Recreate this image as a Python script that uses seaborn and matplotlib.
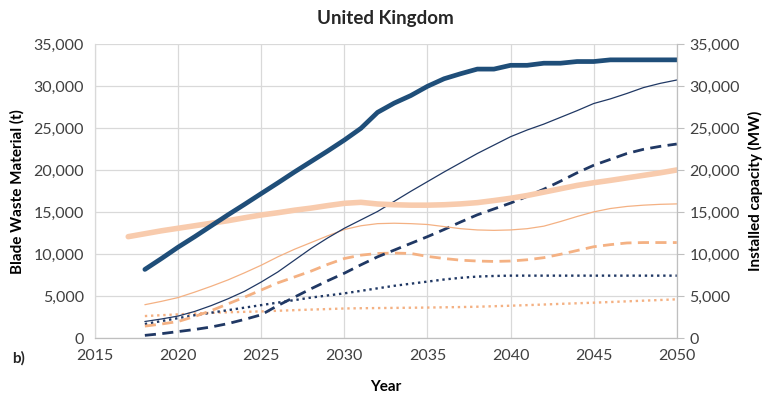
import matplotlib
matplotlib.use("Agg")
import matplotlib.pyplot as plt
import seaborn as sns
import pandas as pd
from matplotlib.ticker import FuncFormatter

# Years covered by the projections
years = list(range(2018, 2051))
capacity_b_years = list(range(2017, 2051))

# Installed capacity (MW), right axis
capacity_a = [8200, 9500, 10850, 12100, 13400, 14700, 15950, 17230, 18500, 19800,
              21050, 22300, 23600, 25000, 26900, 28000, 28900, 30000, 30900, 31500,
              32050, 32050, 32500, 32500, 32750, 32750, 32950, 32950, 33150, 33150,
              33150, 33150, 33150]
capacity_b = [12100, 12450, 12800, 13100, 13400, 13700, 14000, 14350, 14680, 14950,
              15250, 15500, 15800, 16070, 16190, 15990, 15900, 15850, 15850, 15900,
              16000, 16150, 16400, 16670, 17000, 17400, 17800, 18200, 18520, 18800,
              19100, 19400, 19700, 20040]

# Blade waste material (t), left axis
waste_a_solid = [2000, 2300, 2650, 3200, 3900, 4700, 5600, 6700, 7900, 9300,
                 10700, 11950, 13100, 14100, 15100, 16300, 17500, 18650, 19800, 20900,
                 22000, 23000, 24000, 24800, 25500, 26300, 27100, 27950, 28500, 29150,
                 29850, 30350, 30750]
waste_b_solid = [4000, 4400, 4850, 5500, 6200, 6950, 7800, 8700, 9700, 10600,
                 11400, 12200, 12950, 13400, 13650, 13700, 13650, 13550, 13300, 13050,
                 12900, 12850, 12900, 13050, 13350, 13900, 14500, 15050, 15450, 15700,
                 15850, 15950, 16000]
waste_a_dashed = [350, 550, 800, 1050, 1350, 1750, 2250, 2800, 3900, 4900,
                  5900, 6850, 7750, 8750, 9700, 10500, 11300, 12100, 12950, 13850,
                  14700, 15400, 16100, 16900, 17750, 18700, 19700, 20600, 21300, 22000,
                  22500, 22850, 23130]
waste_b_dashed = [1450, 1700, 2000, 2600, 3300, 4100, 4900, 5750, 6600, 7300,
                  8000, 8800, 9500, 9900, 10100, 10150, 10100, 9750, 9500, 9300,
                  9200, 9150, 9200, 9350, 9600, 10000, 10450, 10900, 11150, 11350,
                  11400, 11400, 11400]
waste_a_dotted = [1700, 2050, 2400, 2750, 3050, 3350, 3650, 3950, 4250, 4550,
                  4850, 5100, 5350, 5650, 5950, 6250, 6500, 6750, 7000, 7200,
                  7350, 7420, 7460, 7460, 7460, 7460, 7460, 7460, 7460, 7460,
                  7460, 7460, 7460]
waste_b_dotted = [2650, 2750, 2850, 2950, 3030, 3100, 3150, 3200, 3280, 3350,
                  3420, 3480, 3550, 3580, 3600, 3620, 3640, 3660, 3690, 3720,
                  3760, 3820, 3880, 3950, 4020, 4100, 4170, 4240, 4320, 4400,
                  4480, 4560, 4640]

x_ticks = [2015, 2020, 2025, 2030, 2035, 2040, 2045, 2050]
y_ticks = [0, 5000, 10000, 15000, 20000, 25000, 30000, 35000]

NAVY = "#1F4E79"
DARK = "#203864"
PEACH = "#F8CBAD"
ORANGE = "#F4B183"
TEXT = "#404040"
GRID = "#D9D9D9"
AXIS = "#BFBFBF"

sns.set_theme(style="whitegrid")
plt.rcParams["font.family"] = ["Lato", "DejaVu Sans"]

fig = plt.figure(figsize=(7.63, 3.96), dpi=100)
ax = fig.add_axes([0.1245, 0.1457, 0.7625, 0.7424])
ax2 = ax.twinx()

waste_series = [
    (waste_b_dotted, ORANGE, (0, (1, 1.6)), 1.7),
    (waste_a_dotted, DARK, (0, (1, 1.6)), 1.7),
    (waste_b_dashed, ORANGE, (0, (4, 2.3)), 2.0),
    (waste_a_dashed, DARK, (0, (4, 2.3)), 2.0),
    (waste_b_solid, ORANGE, "-", 0.9),
    (waste_a_solid, DARK, "-", 0.9),
]
for values, color, ls, lw in waste_series:
    df = pd.DataFrame({"year": years, "value": values})
    sns.lineplot(data=df, x="year", y="value", ax=ax, color=color,
                 linewidth=lw, linestyle=ls, legend=False)

cap_series = [
    (capacity_b_years, capacity_b, PEACH, 4.0),
    (years, capacity_a, NAVY, 3.4),
]
for xs, values, color, lw in cap_series:
    df = pd.DataFrame({"year": xs, "value": values})
    sns.lineplot(data=df, x="year", y="value", ax=ax2, color=color,
                 linewidth=lw, legend=False, solid_capstyle="round")

fmt = FuncFormatter(lambda v, _: f"{int(v):,}")
for a in (ax, ax2):
    a.set_ylim(0, 35000)
    a.set_yticks(y_ticks)
    a.yaxis.set_major_formatter(fmt)
    a.set_xlim(2015, 2050)
    a.tick_params(axis="y", labelsize=11.5, labelcolor=TEXT)

ax.set_xticks(x_ticks)
ax.tick_params(axis="x", labelsize=11.5, labelcolor=TEXT, pad=8, length=0)
ax.tick_params(axis="y", length=0, pad=8)
ax2.tick_params(axis="y", length=5, width=0.8, color=AXIS, pad=4, direction="out")
ax2.grid(False)
ax.grid(True, color=GRID, linewidth=0.9)
ax.set_axisbelow(True)

for s in ax.spines.values():
    s.set_visible(False)
for name, s in ax2.spines.items():
    s.set_visible(name in ("right", "bottom", "left"))
    s.set_color(AXIS if name != "left" else GRID)
    s.set_linewidth(0.9)

ax.set_xlabel("Year", fontsize=11, fontweight="bold", color="black", labelpad=12)
ax.set_ylabel("Blade Waste Material (t)", fontsize=11, fontweight="bold",
              color="black", labelpad=6)
ax2.set_ylabel("Installed capacity (MW)", fontsize=11, fontweight="bold",
               color="black", labelpad=6)

fig.suptitle("United Kingdom", x=0.505, y=0.975, fontsize=13.5, fontweight="bold")
fig.text(0.016, 0.085, "b)", fontsize=11, fontweight="bold")

fig.savefig("out.png", dpi=100)
